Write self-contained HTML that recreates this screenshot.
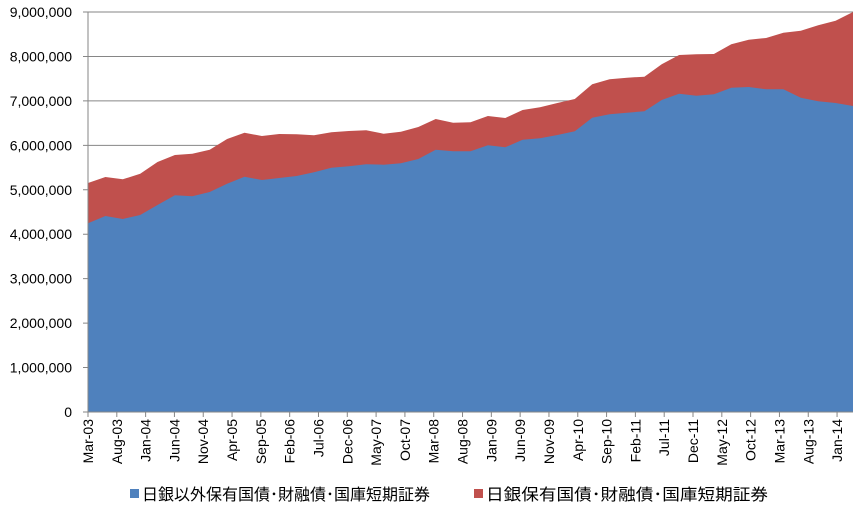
<!DOCTYPE html>
<html><head><meta charset="utf-8"><style>
body{margin:0;background:#fff;}
svg{display:block;font-family:"Liberation Sans","Noto Sans CJK JP",sans-serif;}
</style></head><body>
<svg id="c" width="863" height="513" xmlns="http://www.w3.org/2000/svg"></svg>
<script>
const s=document.getElementById('c');
const red=[549,531,538,521,486,465,461,449,417,398,408,402,403,406,397,393,391,401,395,381,357,368,367,348,354,330,322,309,297,253,238,233,230,193,165,163,162,133,119,114,98,92,76,62,36];
const blue=[670,648,657,645,615,586,589,576,551,530,540,534,528,517,503,499,493,494,490,477,449,454,454,436,442,419,415,405,394,353,343,338,334,300,281,287,283,263,261,268,268,293,304,309,318];
const X=i=>88+17.386*i;
let h='';
for(let k=0;k<=9;k++){const y=412-k*44.444;
 h+=`<line x1="83" x2="853" y1="${y}" y2="${y}" stroke="#868686" stroke-width="1"/>`;
 h+=`<text x="72" y="${y+5}" font-size="14" text-anchor="end" fill="#000">${k==0?'0':(k+',000,000')}</text>`;}
let r='M88,412',b='M88,412';
red.forEach((v,i)=>{r+=` L${X(i).toFixed(1)},${(v/3).toFixed(1)}`;});
blue.forEach((v,i)=>{b+=` L${X(i).toFixed(1)},${(v/3).toFixed(1)}`;});
r+=' L853,412 Z';b+=' L853,412 Z';
h+=`<path d="${r}" fill="#c0504d"/>`;
h+=`<path d="${b}" fill="#4f81bd"/>`;
h+=`<line x1="88" x2="88" y1="12" y2="416" stroke="#868686"/>`;
h+=`<line x1="88" x2="853" y1="412" y2="412" stroke="#868686"/>`;
const m=['Jan','Feb','Mar','Apr','May','Jun','Jul','Aug','Sep','Oct','Nov','Dec'];
for(let j=0;j<27;j++){const mo=2+5*j;const yr=3+Math.floor(mo/12);const x=88+j*28.81;
 if(x>853)break;
 h+=`<line x1="${x}" x2="${x}" y1="412" y2="417" stroke="#868686"/>`;
 const lab=m[mo%12]+'-'+String(yr).padStart(2,'0');
 h+=`<text transform="translate(${x+5},419) rotate(-90)" font-size="14" text-anchor="end" fill="#000">${lab}</text>`;}
h+=`<rect x="130" y="489" width="9" height="9" fill="#4f81bd"/>`;
h+=`<text x="142" y="500" font-size="16" textLength="288" lengthAdjust="spacingAndGlyphs" fill="#000">日銀以外保有国債･財融債･国庫短期証券</text>`;
h+=`<rect x="474" y="489" width="9" height="9" fill="#c0504d"/>`;
h+=`<text x="486" y="500" font-size="16" textLength="282" lengthAdjust="spacingAndGlyphs" fill="#000">日銀保有国債･財融債･国庫短期証券</text>`;
s.innerHTML=h;
</script>
</body></html>
